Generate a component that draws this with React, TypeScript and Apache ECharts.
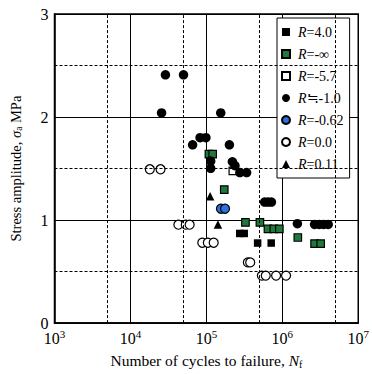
import React, { useEffect, useRef } from "react";
import * as echarts from "echarts";

const FONT = "Liberation Serif";

const xTickLabels = ["3", "4", "5", "6", "7"];
const yTicks = [0, 1, 2, 3];
const dashedX = [5e3, 5e4, 5e5, 5e6];
const dashedY = [0.5, 1.5, 2.5];

const seriesNames = ["R=4.0", "R=-∞", "R=-5.7", "R≒-1.0", "R=-0.62", "R=0.0", "R=0.11"];

const r40: [number, number][] = [
  [275000, 0.87], [315000, 0.87], [473000, 0.777], [714000, 0.777],
];
const rNegInf: [number, number][] = [
  [108000, 1.64], [121000, 1.64], [172000, 1.296], [327000, 0.977], [507000, 0.977],
  [647000, 0.914], [773000, 0.914], [914000, 0.914], [1600000, 0.831],
  [2660000, 0.771], [3200000, 0.771],
];
const rNeg57: [number, number][] = [[223000, 1.478]];
const rNeg10: [number, number][] = [
  [28900, 2.41], [50000, 2.41], [25700, 2.04], [154600, 2.04], [65900, 1.73],
  [82600, 1.8], [98600, 1.8], [201000, 1.73], [114000, 1.573], [114000, 1.502],
  [220000, 1.566], [238000, 1.528], [276000, 1.461], [339000, 1.461],
  [585000, 1.175], [648000, 1.175], [719000, 1.175], [1580000, 0.965],
  [2660000, 0.958], [3060000, 0.958], [3500000, 0.958], [4020000, 0.958],
];
const rNeg062: [number, number][] = [[155600, 1.11], [176000, 1.11]];
const r00: [number, number][] = [
  [18000, 1.493], [24900, 1.493], [42800, 0.955], [53600, 0.955], [60200, 0.955],
  [88300, 0.78], [104500, 0.78], [124800, 0.78], [352000, 0.589], [378000, 0.589],
  [538000, 0.461], [605000, 0.461], [828000, 0.461], [1120000, 0.461],
];
const r011: [number, number][] = [[112000, 1.232], [142000, 0.958]];

export default function App() {
  const ref = useRef<HTMLDivElement>(null);
  useEffect(() => {
    if (!ref.current) return;
    const chart = echarts.init(ref.current, undefined, { renderer: "svg" });
    const mk = (name: string, data: [number, number][], symbol: string, size: number, color: string, border?: string) => ({
      name,
      type: "scatter",
      data,
      symbol,
      symbolSize: size,
      z: 3,
      itemStyle: { color, borderColor: border ?? color, borderWidth: border ? 1.2 : 0, opacity: 1 },
    });
    chart.setOption({
      animation: false,
      grid: { left: 49, right: 10, top: 14, bottom: 46, show: true, borderColor: "#000", borderWidth: 1.5 },
      xAxis: {
        type: "log",
        logBase: 10,
        min: 1000,
        max: 1e7,
        axisLine: { show: true, lineStyle: { color: "#000", width: 1.5 } },
        axisTick: { show: false },
        splitLine: { show: true, lineStyle: { color: "#000", width: 1 } },
        axisLabel: {
          margin: 7,
          formatter: (v: number) => `{b|10}{s|${xTickLabels[Math.round(Math.log10(v)) - 3]}}`,
          rich: {
            b: { fontFamily: FONT, fontSize: 16, lineHeight: 16, color: "#000" },
            s: { fontFamily: FONT, fontSize: 11, lineHeight: 11, color: "#000", padding: [0, 0, 8, 0] },
          },
        },
        name: "{n|Number of cycles to failure, }{i|N}{sub|f}",
        nameLocation: "middle",
        nameGap: 28,
        nameTextStyle: {
          rich: {
            n: { fontFamily: FONT, fontSize: 15.5, color: "#000" },
            i: { fontFamily: FONT, fontSize: 15.5, fontStyle: "italic", color: "#000" },
            sub: { fontFamily: FONT, fontSize: 10, color: "#000", padding: [7, 0, 0, 0] },
          },
        },
      },
      yAxis: {
        type: "value",
        min: 0,
        max: 3,
        interval: 1,
        axisLine: { show: true, lineStyle: { color: "#000", width: 1.5 } },
        axisTick: { show: false },
        splitLine: { show: true, lineStyle: { color: "#000", width: 1 } },
        axisLabel: {
          margin: 6,
          fontFamily: FONT,
          fontSize: 16,
          lineHeight: 12,
          color: "#000",
          formatter: (v: number) => (yTicks.includes(v) ? String(v) : ""),
        },
        name: "{n|Stress amplitude, }{i|σ}{sub|a}{n| MPa}",
        nameLocation: "middle",
        nameRotate: 90,
        nameGap: 31,
        nameTextStyle: {
          rich: {
            n: { fontFamily: FONT, fontSize: 14.5, color: "#000" },
            i: { fontFamily: FONT, fontSize: 14.5, fontStyle: "italic", color: "#000" },
            sub: { fontFamily: FONT, fontSize: 9.5, color: "#000", padding: [6, 0, 0, 0] },
          },
        },
      },
      legend: {
        orient: "vertical",
        left: 277,
        top: 18,
        padding: [6, 6, 6, 4],
        backgroundColor: "#fff",
        borderColor: "#000",
        borderWidth: 1,
        itemWidth: 8,
        itemHeight: 8,
        itemGap: 6,
        data: seriesNames,
        formatter: (name: string) => `{i|R}{t|${name.slice(1)}}`,
        textStyle: {
          padding: [0, 0, 0, 3],
          lineHeight: 16,
          rich: {
            i: { fontFamily: FONT, fontSize: 14, lineHeight: 16, fontStyle: "italic", color: "#000" },
            t: { fontFamily: FONT, fontSize: 14, lineHeight: 16, color: "#000" },
          },
        },
      },
      series: [
        {
          name: "grid-dashed",
          type: "scatter",
          data: [],
          z: 1,
          silent: true,
          markLine: {
            silent: true,
            symbol: ["none", "none"],
            label: { show: false },
            lineStyle: { type: [3, 2], color: "#000", width: 1 },
            data: [...dashedX.map((x) => ({ xAxis: x })), ...dashedY.map((y) => ({ yAxis: y }))],
          },
        },
        mk(seriesNames[0], r40, "rect", 7.5, "#000"),
        mk(seriesNames[1], rNegInf, "rect", 7.5, "#1e7a3a", "#000"),
        mk(seriesNames[2], rNeg57, "rect", 7.5, "#fff", "#000"),
        mk(seriesNames[3], rNeg10, "circle", 9.5, "#000"),
        mk(seriesNames[4], rNeg062, "circle", 9, "#2f6fe0", "#000"),
        mk(seriesNames[5], r00, "circle", 9, "#fff", "#000"),
        mk(seriesNames[6], r011, "triangle", 8.5, "#000"),
      ],
    });
    return () => chart.dispose();
  }, []);
  return <div ref={ref} style={{ width: 372, height: 374, position: "absolute", left: 0, top: 0 }} />;
}
